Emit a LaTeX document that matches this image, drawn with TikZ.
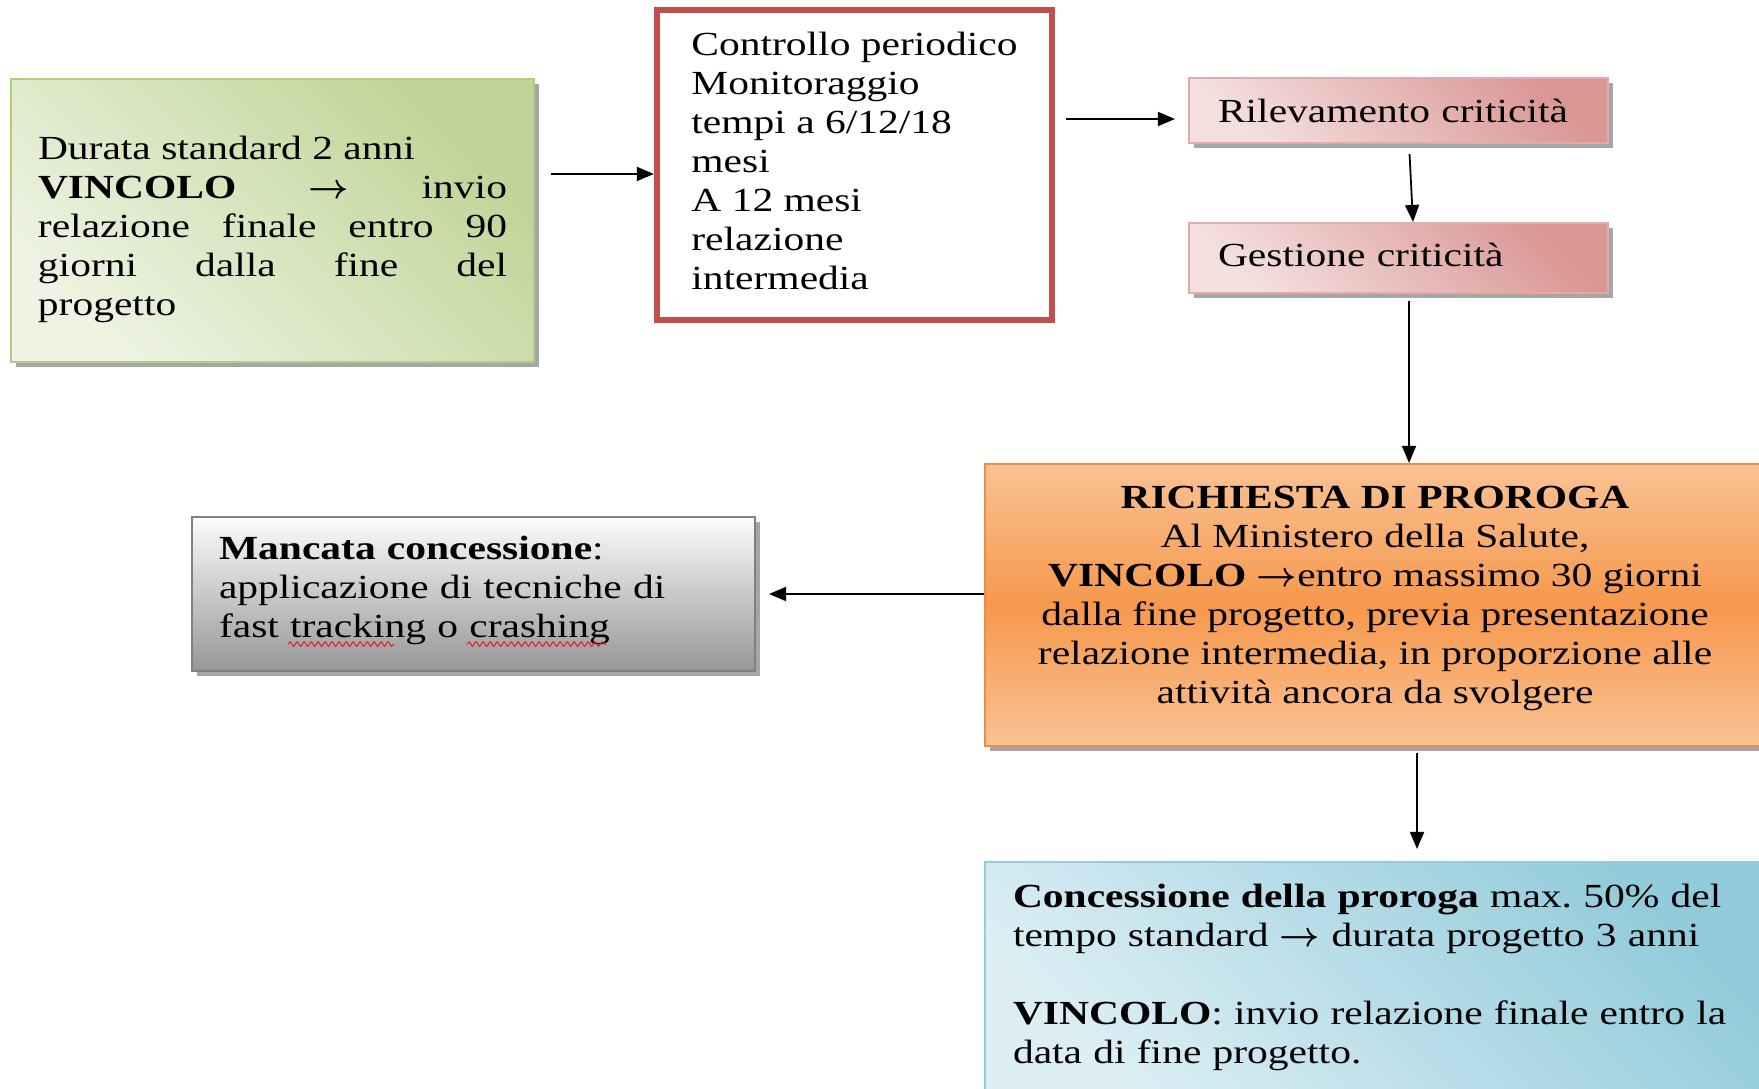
\documentclass[tikz,border=0pt]{standalone}
\usepackage{fontspec}
\setmainfont[FakeStretch=1.23]{Liberation Serif}
\usetikzlibrary{arrows.meta,shadows,decorations.pathmorphing}
\tolerance=10000
\hbadness=10000
\frenchspacing
\newcommand\frecciatesto{{\boldmath$\rightarrow$}}
\definecolor{verdechiaro}{RGB}{238,243,227}
\definecolor{verdescuro}{RGB}{191,212,150}
\definecolor{verdebordo}{RGB}{178,204,130}
\definecolor{rossobordo}{RGB}{192,80,77}
\definecolor{rosachiaro}{RGB}{244,223,222}
\definecolor{rosascuro}{RGB}{217,150,148}
\definecolor{rosabordo}{RGB}{226,170,168}
\definecolor{grigiochiaro}{RGB}{252,252,252}
\definecolor{grigioscuro}{RGB}{150,150,150}
\definecolor{grigiobordo}{RGB}{128,128,128}
\definecolor{aranciochiaro}{RGB}{250,194,148}
\definecolor{aranciomedio}{RGB}{246,152,76}
\definecolor{aranciobordo}{RGB}{240,140,60}
\definecolor{azzurrochiaro}{RGB}{220,238,244}
\definecolor{azzurroscuro}{RGB}{146,203,219}
\definecolor{azzurrobordo}{RGB}{150,205,222}
\definecolor{spellred}{RGB}{230,30,30}
\tikzset{
  box/.style={rectangle, inner sep=0pt, line width=0.6pt,
    font=\fontsize{9.6}{11.1}\selectfont},
  ombra/.style={drop shadow={shadow xshift=0.5mm, shadow yshift=-0.5mm,
    fill=black, opacity=0.35}},
  verde/.style={box, ombra, draw=verdebordo, top color=verdescuro,
    bottom color=verdechiaro, shading angle=-45},
  rossa/.style={box, draw=rossobordo, line width=1.8pt, fill=white},
  rosa/.style={box, ombra, draw=rosabordo, top color=rosascuro,
    bottom color=rosachiaro, shading angle=-45},
  grigia/.style={box, ombra, draw=grigiobordo, top color=grigiochiaro,
    bottom color=grigioscuro},
  arancio/.style={box, ombra, draw=aranciobordo, top color=aranciochiaro,
    bottom color=aranciochiaro, middle color=aranciomedio},
  azzurra/.style={box, ombra, draw=azzurrobordo, top color=azzurroscuro,
    bottom color=azzurrochiaro, shading angle=-45},
  freccia/.style={->, line width=0.5pt},
  onda/.style={draw=spellred, line width=0.3pt,
    decorate, decoration={snake, segment length=0.7mm, amplitude=0.22mm}}
}
\begin{document}
\begin{tikzpicture}[>={Triangle[length=1.7mm,width=1.4mm]}]
\useasboundingbox (0,0) rectangle (17.59,-10.89);
%Durata
\node[verde, text width=4.69cm, align=justify, minimum width=5.23cm, minimum height=2.83cm] (durata) at (2.725,-2.205)
  {\rule{0pt}{4.1mm}Durata standard 2 anni\\ \textbf{VINCOLO} \frecciatesto{} invio\linebreak relazione finale entro 90\linebreak giorni dalla fine del\linebreak progetto};
%Controllo
\node[rossa, align=left, minimum width=3.95cm, minimum height=3.1cm] (controllo) at (8.545,-1.65)
  {Controllo periodico\\Monitoraggio\\tempi a 6/12/18\\mesi\\A 12 mesi\\relazione\\intermedia\rule[-0.9mm]{0pt}{0pt}};
%Criticita
\node[rosa, text width=3.61cm, align=left, minimum width=4.19cm, minimum height=0.65cm] (rilevamento) at (13.985,-1.105)
  {Rilevamento criticità};
\node[rosa, text width=3.61cm, align=left, minimum width=4.19cm, minimum height=0.70cm] (gestione) at (13.985,-2.58)
  {Gestione criticità\rule[-0.7mm]{0pt}{0pt}};
%Proroga
\node[arancio, align=center, minimum width=7.8cm, minimum height=2.82cm] (richiesta) at (13.75,-6.05)
  {\textbf{RICHIESTA DI PROROGA}\\Al Ministero della Salute,\\\textbf{VINCOLO} \frecciatesto{}entro massimo 30 giorni\\dalla fine progetto, previa presentazione\\relazione intermedia, in proporzione alle\\attività ancora da svolgere\rule[-2.1mm]{0pt}{0pt}};
\node[grigia, text width=5.09cm, align=left, minimum width=5.63cm, minimum height=1.54cm] (mancata) at (4.735,-5.94)
  {\textbf{Mancata concessione}:\\applicazione di tecniche di\\fast tracking o crashing\rule[-1.45mm]{0pt}{0pt}};
\node[azzurra, text width=7.24cm, align=left, minimum width=7.8cm, minimum height=2.30cm] (concessione) at (13.75,-9.77)
  {\textbf{Concessione della proroga} max. 50\% del\\tempo standard \frecciatesto{} durata progetto 3 anni\\[\baselineskip]\textbf{VINCOLO}: invio relazione finale entro la\\data di fine progetto.};
%Onde rosse
\draw[onda] ([shift={(0.97,0.28)}]mancata.south west) -- ([shift={(2.03,0.28)}]mancata.south west);
\draw[onda] ([shift={(2.76,0.28)}]mancata.south west) -- ([shift={(4.15,0.28)}]mancata.south west);
%Frecce
\coordinate (d1) at ([yshift=4.65mm]durata.east);
\coordinate (c1) at ([yshift=4.6mm]controllo.east);
\coordinate (r1) at ([xshift=1.05mm]rilevamento.south);
\coordinate (g1) at ([xshift=1.05mm]gestione.south);
\coordinate (p1) at ([xshift=4.2mm]richiesta.south);
\draw[freccia, shorten <=1.6mm] (d1) -- (d1 -| controllo.west);
\draw[freccia, shorten <=1.1mm, shorten >=1.3mm] (c1) -- (c1 -| rilevamento.west);
\draw[freccia, shorten <=1mm] (r1) -- ([xshift=1.45mm]gestione.north);
\draw[freccia, shorten <=0.7mm] (g1) -- (g1 |- richiesta.north);
\draw[freccia, shorten >=1.3mm] (richiesta.west |- mancata.east) -- (mancata.east);
\draw[freccia, shorten <=0.6mm, shorten >=1.2mm] (p1) -- (p1 |- concessione.north);
\end{tikzpicture}
\end{document}
